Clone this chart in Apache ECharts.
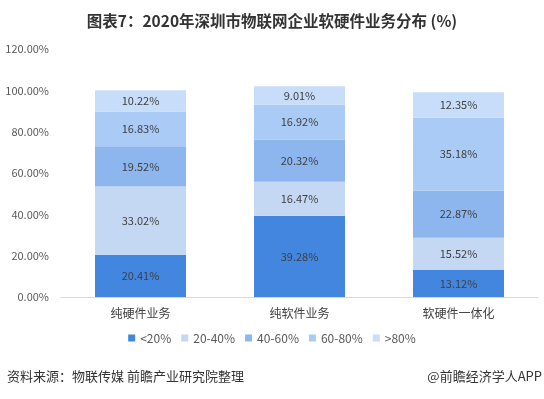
<!DOCTYPE html>
<html>
<head>
<meta charset="utf-8">
<script src="https://cdn.jsdelivr.net/npm/echarts@6/dist/echarts.min.js"></script>
<style>
  html, body { margin: 0; padding: 0; background: #fff; }
  #chart { width: 544px; height: 399px; }
</style>
</head>
<body>
<div id="chart"></div>
<script>
const categories = ['纯硬件业务', '纯软件业务', '软硬件一体化']
const seriesNames = ['<20%', '20-40%', '40-60%', '60-80%', '>80%']
const below20 = [20.41, 39.28, 13.12]
const from20to40 = [33.02, 16.47, 15.52]
const from40to60 = [19.52, 20.32, 22.87]
const from60to80 = [16.83, 16.92, 35.18]
const above80 = [10.22, 9.01, 12.35]
const yTicks = [0, 20, 40, 60, 80, 100, 120]

const colors = ['#4286e0', '#c4d8f4', '#8db5ee', '#aacbf6', '#c7ddf9']
const values = [below20, from20to40, from40to60, from60to80, above80]
const font = '"Microsoft YaHei", "Noto Sans CJK SC", sans-serif'

const chart = echarts.init(document.getElementById('chart'))
chart.setOption({
  backgroundColor: '#fff',
  animation: false,
  title: {
    text: '图表7：2020年深圳市物联网企业软硬件业务分布 (%)',
    left: 'center',
    top: 8,
    textStyle: { fontSize: 15.5, fontWeight: 'bold', color: '#333', fontFamily: font }
  },
  legend: {
    data: seriesNames,
    bottom: 50,
    itemWidth: 7,
    itemHeight: 7,
    itemGap: 10,
    icon: 'rect',
    textStyle: { fontSize: 12, color: '#595959', fontFamily: font }
  },
  graphic: [
    { type: 'text', left: 7, top: 370, style: { text: '资料来源：物联传媒 前瞻产业研究院整理', fill: '#333', font: '13px ' + font } },
    { type: 'text', right: 2, top: 370, style: { text: '@前瞻经济学人APP', fill: '#333', font: '13px ' + font } }
  ],
  grid: { left: 61, right: 6, top: 49, bottom: 102 },
  xAxis: {
    type: 'category',
    data: categories,
    axisLine: { lineStyle: { color: '#d9d9d9' } },
    axisTick: { show: false },
    axisLabel: { color: '#404040', fontSize: 12, margin: 10, fontFamily: font }
  },
  yAxis: {
    type: 'value',
    min: yTicks[0],
    max: yTicks[yTicks.length - 1],
    interval: 20,
    axisLine: { show: false },
    axisTick: { show: false },
    splitLine: { show: false },
    axisLabel: { color: '#595959', fontSize: 11, margin: 12, formatter: v => v.toFixed(2) + '%', fontFamily: font }
  },
  series: seriesNames.map((name, i) => ({
    name: name,
    type: 'bar',
    stack: 'total',
    barWidth: 91,
    data: values[i],
    itemStyle: { color: colors[i] },
    label: {
      show: true,
      position: 'inside',
      color: '#404040',
      fontSize: 11,
      fontFamily: font,
      formatter: p => p.value.toFixed(2) + '%'
    }
  }))
})
</script>
</body>
</html>
